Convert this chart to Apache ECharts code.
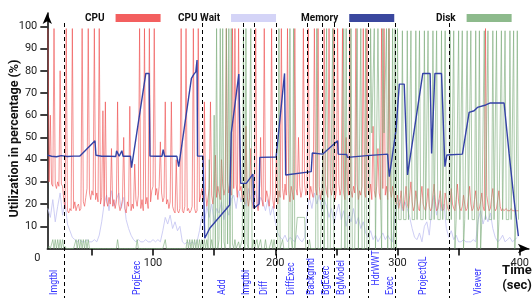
<!DOCTYPE html>
<html>
<head>
<meta charset="utf-8">
<script src="https://cdn.jsdelivr.net/npm/echarts@6/dist/echarts.min.js"></script>
</head>
<body style="margin:0">
<div id="container" style="width:532px;height:299px"></div>
<script>
// time of first sample (sec); cpu and disk are 1 s apart, cpuWait 2 s apart
var t0 = 14;

var cpu = [
  99,30,60,29,28,99,29,27,30,28, // 14
  80,29,28,22,18,99,17,16,18,17, // 24
  99,18,21,17,19,20,17,18,99,21, // 34
  19,23,27,99,25,22,26,24,99,22, // 44
  25,21,99,20,23,62,19,66,21,19, // 54
  23,20,45,19,22,18,21,66,20,17, // 64
  19,22,50,18,16,21,19,64,17,20, // 74
  18,38,22,19,24,99,18,22,17,99, // 84
  20,23,18,99,21,26,28,99,24,27, // 94
  22,28,48,25,21,23,66,20,22,18, // 104
  21,66,19,17,16,40,17,16,18,99, // 114
  17,16,19,99,17,18,16,17,19,99, // 124
  18,16,17,99,21,24,27,22,66,25, // 134
  19,23,27,66,24,20,26,42,23,28, // 144
  25,22,40,29,24,27,99,30,25,28, // 154
  24,99,27,99,29,23,99,26,28,22, // 164
  25,20,55,24,19,23,45,21,18,22, // 174
  99,20,17,24,50,22,19,99,21,26, // 184
  23,19,25,99,22,18,24,45,20,26, // 194
  23,99,27,22,29,24,99,26,21,28, // 204
  25,22,99,27,24,50,28,23,26,99, // 214
  29,24,27,99,22,28,25,23,99,27, // 224
  24,99,28,22,26,24,99,29,25,23, // 234
  99,27,24,28,99,22,26,99,29,24, // 244
  27,99,25,22,50,28,24,99,26,23, // 254
  28,25,99,29,22,26,24,28,99,25, // 264
  23,99,27,24,29,22,55,26,23,28, // 274
  45,25,22,99,27,99,24,28,22,99, // 284
  26,23,28,25,22,20,24,18,21,26, // 294
  19,17,22,28,20,18,24,30,21,17, // 304
  19,26,22,18,17,23,28,20,18,17, // 314
  21,27,19,17,18,24,29,21,17,18, // 324
  22,26,19,17,18,25,22,18,17,21, // 334
  27,20,18,17,22,29,21,18,17,19, // 344
  24,20,17,18,23,28,20,17,18,22, // 354
  26,19,17,18,21,25,19,17,99,24, // 364
  20,17,18,23,27,19,17,18,22,26, // 374
  19,17,18,17,17,18,17,17,17,18, // 384
  17,17,17,17,17,17              // 394
];

var cpuWait = [
  18,14,22,12,19,25,15,21,11,8,   // 14
  5,4,3,4,3,3,4,3,3,4,            // 34
  3,6,12,20,24,17,26,19,22,25,    // 54
  18,23,13,9,6,4,3,4,3,3,         // 74
  4,3,3,4,3,4,3,8,14,11,          // 94
  15,9,12,8,10,3,2,3,2,3,         // 114
  2,3,8,15,11,19,14,20,12,18,     // 134
  16,21,13,19,15,22,24,18,26,21,  // 154
  25,19,27,22,20,26,18,23,21,17,  // 174
  22,15,19,12,7,5,4,6,3,5,        // 194
  4,3,6,4,3,5,16,23,18,25,        // 214
  20,24,17,22,19,14,18,11,16,20,  // 234
  13,17,10,15,12,18,11,14,9,12,   // 254
  7,5,8,4,6,3,5,7,4,6,            // 274
  4,3,16,20,22,17,21,18,14,9,     // 294
  5,4,7,3,10,12,6,18,24,15,       // 314
  22,17,20,9,5,8,4,6,3,3,         // 334
  4,3,3,3,4,3,13,17,11,15,        // 354
  12,16,9,5,3,4,6,3,4,5,          // 374
  3,4,5                           // 394
];

var disk = [
  0,1,0,0,4,0,4,0,4,0,            // 14
  4,0,4,0,1,0,0,0,0,0,            // 24
  0,0,0,4,0,4,0,4,0,4,            // 34
  0,4,0,4,0,0,0,0,0,0,            // 44
  0,0,0,0,0,0,0,0,0,0,            // 54
  0,0,0,0,0,0,0,4,0,0,            // 64
  0,0,0,0,0,0,0,0,0,0,            // 74
  0,0,0,4,0,0,0,0,0,0,            // 84
  0,0,0,0,0,0,0,0,0,0,            // 94
  0,0,0,0,0,0,4,0,0,0,            // 104
  0,0,0,0,0,0,0,0,0,0,            // 114
  0,0,0,0,4,0,4,0,4,0,            // 124
  4,0,4,0,4,0,4,0,4,0,            // 134
  4,0,40,0,4,0,60,0,99,0,         // 144
  4,99,0,99,3,0,99,2,99,0,        // 154
  99,2,0,4,0,0,3,0,0,4,           // 164
  99,0,99,2,0,0,99,0,4,0,         // 174
  0,4,0,0,4,0,0,0,4,0,            // 184
  0,0,0,4,0,4,0,0,0,99,           // 194
  0,0,4,0,0,0,0,0,99,4,           // 204
  0,99,0,0,14,14,14,14,14,14,     // 214
  14,0,0,0,4,0,0,0,0,0,           // 224
  99,0,0,0,0,45,0,0,99,0,         // 234
  0,0,0,99,0,0,0,0,0,0,           // 244
  0,0,99,0,99,0,0,0,99,0,         // 254
  0,0,0,99,0,0,99,0,0,0,          // 264
  99,0,0,0,99,52,52,99,0,52,      // 274
  99,52,52,0,99,52,52,99,0,99,    // 284
  52,0,99,0,99,0,99,13,13,13,     // 294
  98,13,13,13,98,13,13,98,13,13,  // 304
  13,98,13,13,98,13,13,13,98,13,  // 314
  13,98,13,13,13,98,13,13,98,13,  // 324
  13,13,98,13,13,98,13,13,13,98,  // 334
  13,13,98,0,13,13,98,13,13,98,   // 344
  0,13,13,98,13,13,98,13,13,13,   // 354
  98,0,13,98,0,13,13,98,13,13,    // 364
  98,13,13,13,98,13,13,98,0,13,   // 374
  13,98,13,13,98,13,13,13,98,13,  // 384
  13,98,0,13,98,13                // 394
];

// memory line, [sec, %]
var memory = [
  [13.6,42],[17,41.5],[21,41.3],[25,41.8],[30,41.4],[35,41.6],[40.2,41.6],[52.5,48.5],[53.3,42],
  [58,41.5],[63,41.6],[69.5,41.4],[70.2,44],[71.5,44],[72.3,41.5],[73.8,41.5],[74.5,44],[75.5,41.5],
  [81.6,41.5],[82.4,36.4],[94.1,78.8],[96.8,78.8],[97.5,41.6],[103,41.5],[107.3,41.5],[108.3,44.5],
  [109.5,41.5],[115,41.6],[119.5,41.5],[121,36.8],[131.4,76.6],[133.5,78.5],[135,79.5],[136,84.8],
  [136.4,41.6],[140.9,41.6],[142.3,4.6],[146.4,9.1],[162.7,19.6],[164,52],[170.2,78.5],[171.7,29.3],
  [176.3,29.3],[181.7,33.5],[182.5,18.1],[186.8,20],[187.3,41],[200.7,41.2],[207.6,78.8],[208.5,33.1],
  [229.4,34.6],[230.3,43],[238.9,42.5],[251,48.5],[251.5,42.5],[258.5,42.3],[259,41],[275,41.8],
  [291.9,42.5],[293.3,32.3],[298.8,53.3],[301.5,74],[305.5,74],[308.2,33.1],[320.7,78.8],[326.7,78.8],
  [327.9,42.8],[329.5,42.8],[330.6,78.8],[336,78.8],[338.8,36.8],[340.4,42.1],[353.1,42.5],[358.6,61.3],
  [362.7,62],[365.4,63.5],[372.2,64.6],[376,65.5],[387.2,65.5],[391.3,42.8],[395.4,21.8],[398.9,5.6]
];

// phase boundaries (sec) and phase names with the time they sit at
var phases = [26.8, 139.8, 173.3, 182.5, 200.7, 225.6, 238.6, 247.8, 260.4, 276.2, 297.8, 342.3];
var phaseLabels = [
  ['Imgtbl', 19.0], ['ProjExec', 87.0], ['Add', 156.7], ['Imgtbl', 176.3], ['Diff', 191.3],
  ['DiffExec', 213.1], ['Backgrnd', 229.4], ['BgExec', 241.6], ['BgModel', 253.9],
  ['HdrWWT', 282.9], ['Exec', 293.9], ['ProjectQL', 321.1], ['Viewer', 366.2]
];

var xTicks = [50, 100, 150, 200, 250, 300, 350, 400];
var xLabels = [100, 200, 300, 400];
var yTicks = [10, 20, 30, 40, 50, 60, 70, 80, 90, 100];

var font = 'Roboto, "Liberation Sans", sans-serif';
var chart = echarts.init(document.getElementById('container'));

function pairs(arr, step) {
  return arr.map(function (v, i) { return [t0 + i * step, v]; });
}

function legendAt(name, left, color) {
  return {
    data: [{ name: name, itemStyle: { color: color, opacity: 1 } }],
    left: left, top: 8,
    icon: 'rect', itemWidth: 45, itemHeight: 8, align: 'right',
    selectedMode: false,
    itemStyle: { borderWidth: 0 },
    textStyle: { fontFamily: font, fontWeight: 'bold', fontSize: 10, color: '#111', padding: [0, 6, 0, 0] }
  };
}

var option = {
  animation: false,
  grid: { left: 47.3, right: 2, top: 13, bottom: 50.5 },
  legend: [
    legendAt('CPU', 80, '#f35f5f'),
    legendAt('CPU Wait', 173, '#d4d4f7'),
    legendAt('Memory', 296, '#3a479e'),
    legendAt('Disk', 431, '#8dba8c')
  ],
  xAxis: {
    type: 'value', min: 13.5, max: 407.5,
    splitLine: { show: false },
    axisLine: { onZero: false, symbol: ['none', 'arrow'], symbolSize: [7, 11], lineStyle: { color: '#000', width: 1.5 } },
    axisTick: { customValues: xTicks, length: 7, lineStyle: { color: '#000', width: 1.5 } },
    axisLabel: { customValues: xLabels, margin: 9, fontSize: 11, fontFamily: font, color: '#222' }
  },
  yAxis: {
    type: 'value', min: 0, max: 106,
    splitLine: { show: false },
    axisLine: { show: true, onZero: false, symbol: ['none', 'arrow'], symbolSize: [7, 11], lineStyle: { color: '#000', width: 1.5 } },
    axisTick: { show: true, customValues: yTicks, length: 7, lineStyle: { color: '#000', width: 1.5 } },
    axisLabel: { customValues: yTicks, margin: 10, fontSize: 11, fontFamily: font, color: '#222' }
  },
  series: [
    { name: 'CPU Wait', type: 'line', data: pairs(cpuWait, 2), symbol: 'none', color: '#c6c6f2',
      lineStyle: { width: 1, opacity: 0.85 }, z: 2 },
    { name: 'CPU', type: 'line', data: pairs(cpu, 1), symbol: 'none', color: '#ee4a4a',
      lineStyle: { width: 1, opacity: 0.6 }, z: 3 },
    { name: 'Disk', type: 'line', data: pairs(disk, 1), symbol: 'none', color: '#7aab79',
      lineStyle: { width: 1, opacity: 0.62 }, z: 4 },
    { name: 'Memory', type: 'line', data: memory, symbol: 'none', color: '#3442a6',
      lineStyle: { width: 1.4 }, z: 5 }
  ]
};
chart.setOption(option);

// phase markers and names, placed through the x axis scale
var labelLift = { HdrWWT: 9.5 };
var gfx = [];
phases.forEach(function (t) {
  var x = Math.round(chart.convertToPixel({ xAxisIndex: 0 }, t)) + 0.5;
  gfx.push({ type: 'line', z: 10, shape: { x1: x, y1: 23, x2: x, y2: 298 },
    style: { stroke: '#000', lineWidth: 1, lineDash: [4, 3] } });
});
phaseLabels.forEach(function (p) {
  var x = chart.convertToPixel({ xAxisIndex: 0 }, p[1]);
  gfx.push({ type: 'text', z: 10, x: x, y: 295 - (labelLift[p[0]] || 0), rotation: Math.PI / 2, scaleX: 0.84,
    style: { text: p[0], fill: '#3333ff', fontSize: 10.5, fontFamily: font,
      align: 'left', verticalAlign: 'middle', textAlign: 'left', textVerticalAlign: 'middle' } });
});
gfx.push({ type: 'text', x: 15, y: 138.5, rotation: Math.PI / 2,
  style: { text: 'Utilization in percentage (%)', fill: '#111', fontSize: 12.5, fontWeight: 'bold', fontFamily: font,
    align: 'center', verticalAlign: 'middle', textAlign: 'center', textVerticalAlign: 'middle' } });
gfx.push({ type: 'text', x: 37.3, y: 258,
  style: { text: '0', fill: '#222', fontSize: 11, fontFamily: font,
    align: 'center', verticalAlign: 'middle', textAlign: 'center', textVerticalAlign: 'middle' } });
gfx.push({ type: 'text', x: 517, y: 271,
  style: { text: 'Time', fill: '#111', fontSize: 13, fontWeight: 'bold', fontFamily: font,
    align: 'center', verticalAlign: 'middle', textAlign: 'center', textVerticalAlign: 'middle' } });
gfx.push({ type: 'text', x: 517, y: 285.5,
  style: { text: '(sec)', fill: '#111', fontSize: 13, fontWeight: 'bold', fontFamily: font,
    align: 'center', verticalAlign: 'middle', textAlign: 'center', textVerticalAlign: 'middle' } });
chart.setOption({ graphic: gfx });
</script>
</body>
</html>
